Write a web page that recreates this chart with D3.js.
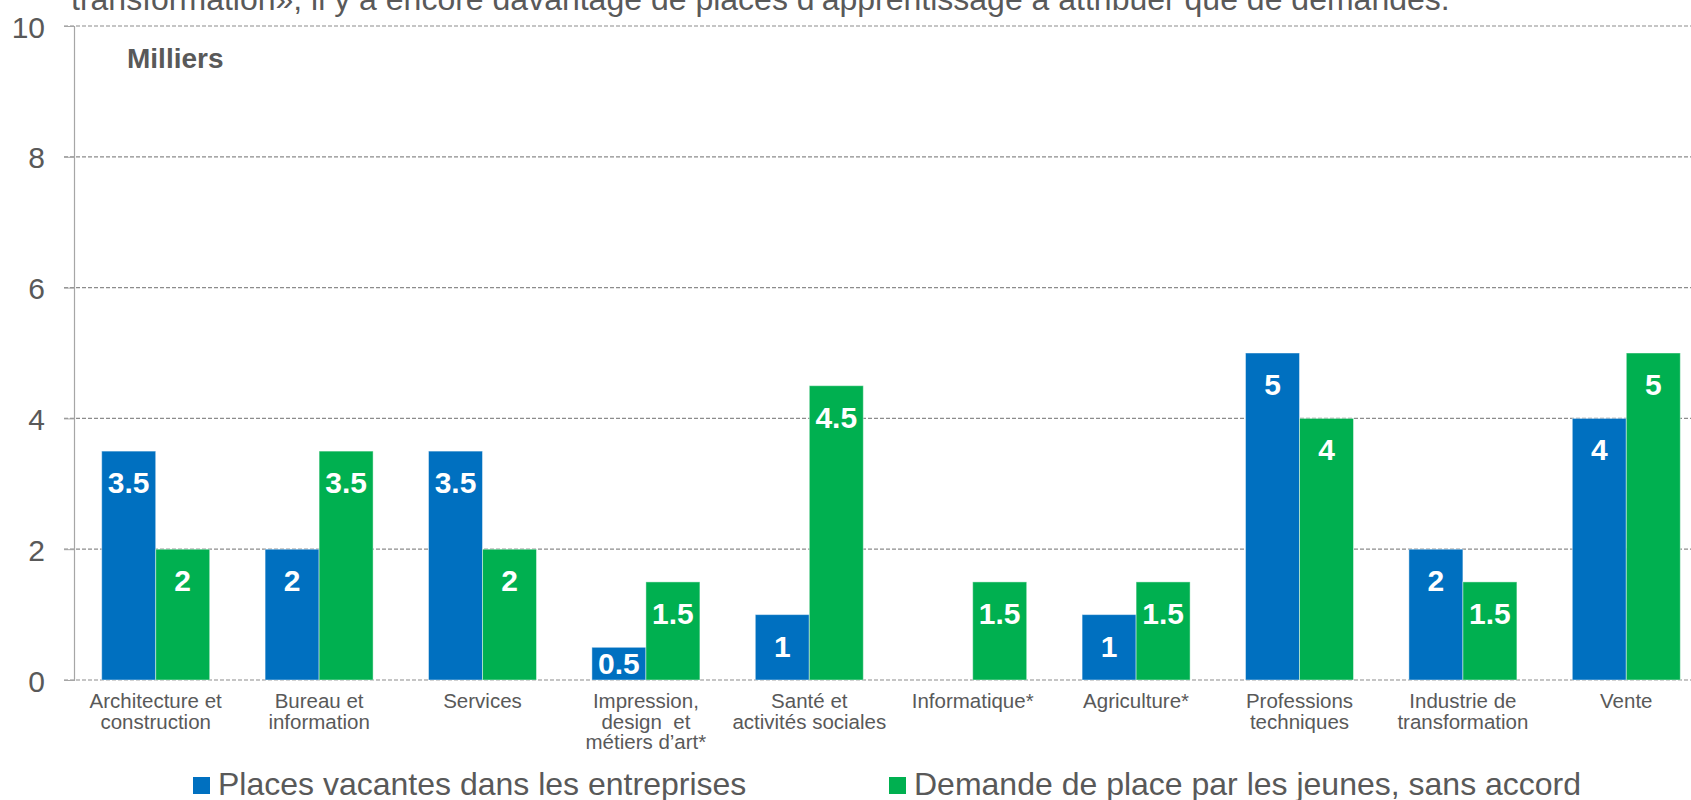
<!DOCTYPE html>
<html>
<head>
    <meta charset="utf-8">
    <title>Places d'apprentissage par domaine</title>
    <script src="https://cdnjs.cloudflare.com/ajax/libs/d3/7.8.5/d3.min.js"></script>
    <style>
        body {
            margin: 0;
            background: #fff;
            font-family: "Liberation Sans", Arial, sans-serif;
        }
        svg text {
            white-space: pre;
        }
    </style>
</head>
<body>
    <div id="chart"></div>

    <script>
        // Categories (each entry = lines of the axis label)
        const categories = [
            ["Architecture et", "construction"],
            ["Bureau et", "information"],
            ["Services"],
            ["Impression,", "design  et", "métiers d’art*"],
            ["Santé et", "activités sociales"],
            ["Informatique*"],
            ["Agriculture*"],
            ["Professions", "techniques"],
            ["Industrie de", "transformation"],
            ["Vente"]
        ];
        const placesVacantes = [3.5, 2, 3.5, 0.5, 1, null, 1, 5, 2, 4];
        const demandes = [2, 3.5, 2, 1.5, 4.5, 1.5, 1.5, 4, 1.5, 5];
        const seriesNames = ["Places vacantes dans les entreprises", "Demande de place par les jeunes, sans accord"];
        const seriesColors = ["#0070C0", "#00B050"];
        const yTicks = [0, 2, 4, 6, 8, 10];
        const titleText = "transformation», il y a encore davantage de places d’apprentissage à attribuer que de demandes.";

        const width = 1691, height = 800;
        const textColor = "#595959";

        const svg = d3.select("#chart")
            .append("svg")
            .attr("width", width)
            .attr("height", height);

        const keys = categories.map((c, i) => "c" + i);

        const x = d3.scaleBand()
            .domain(keys)
            .range([74, 1708])
            .paddingInner(0.339)
            .paddingOuter(0.1695);

        const x1 = d3.scaleBand()
            .domain([0, 1])
            .range([0, x.bandwidth()]);

        const y = d3.scaleLinear()
            .domain([0, 10])
            .range([680, 26]);

        // cut-off text at the very top
        svg.append("text")
            .attr("x", 71)
            .attr("y", 10)
            .attr("fill", textColor)
            .style("font-size", "32px")
            .text(titleText);

        // gridlines
        svg.append("g")
            .selectAll("line")
            .data(yTicks)
            .enter()
            .append("line")
            .attr("x1", 64)
            .attr("x2", width)
            .attr("y1", d => y(d))
            .attr("y2", d => y(d))
            .attr("stroke", "#8c8c8c")
            .attr("stroke-width", 1.2)
            .attr("stroke-dasharray", "4,2");

        // y axis
        const yAxis = d3.axisLeft(y)
            .tickValues(yTicks)
            .tickSize(10)
            .tickPadding(19)
            .tickFormat(d3.format("d"));

        const gy = svg.append("g")
            .attr("transform", "translate(74,0)")
            .call(yAxis);
        gy.select(".domain").attr("stroke", "#a6a6a6").attr("stroke-width", 1.2);
        gy.selectAll(".tick line").attr("stroke", "#a6a6a6");
        gy.selectAll(".tick text")
            .attr("fill", textColor)
            .attr("dy", "11px")
            .style("font-size", "30px")
            .style("font-family", "'Liberation Sans', Arial, sans-serif");

        svg.append("text")
            .attr("x", 127)
            .attr("y", 68)
            .attr("fill", textColor)
            .style("font-size", "28px")
            .style("font-weight", "bold")
            .text("Milliers");

        // bars
        const barData = [];
        keys.forEach((k, i) => {
            [placesVacantes[i], demandes[i]].forEach((v, s) => {
                if (v != null) barData.push({ key: k, s: s, value: v });
            });
        });

        const bars = svg.append("g");
        bars.selectAll("rect")
            .data(barData)
            .enter()
            .append("rect")
            .attr("x", d => x(d.key) + x1(d.s))
            .attr("y", d => y(d.value))
            .attr("width", x1.bandwidth())
            .attr("height", d => y(0) - y(d.value))
            .attr("fill", d => seriesColors[d.s])
            .attr("stroke", "rgba(255,255,255,0.45)")
            .attr("stroke-width", 1);

        bars.selectAll("text")
            .data(barData)
            .enter()
            .append("text")
            .attr("x", d => x(d.key) + x1(d.s) + x1.bandwidth() / 2)
            .attr("y", d => Math.min(y(d.value) + 42, y(0) - 6))
            .attr("text-anchor", "middle")
            .attr("fill", "#fff")
            .style("font-size", "30px")
            .style("font-weight", "bold")
            .text(d => d.value);

        // category labels
        const cat = svg.append("g")
            .selectAll("text")
            .data(categories)
            .enter()
            .append("text")
            .attr("x", (d, i) => x(keys[i]) + x.bandwidth() / 2)
            .attr("y", 708)
            .attr("text-anchor", "middle")
            .attr("fill", textColor)
            .style("font-size", "20.5px");

        cat.selectAll("tspan")
            .data(d => d)
            .enter()
            .append("tspan")
            .attr("x", function() { return this.parentNode.getAttribute("x"); })
            .attr("dy", (d, i) => i === 0 ? 0 : 20.5)
            .text(d => d);

        // legend
        const legendX = [193, 889];
        const legend = svg.append("g")
            .selectAll("g")
            .data(seriesNames)
            .enter()
            .append("g")
            .attr("transform", (d, i) => `translate(${legendX[i]},0)`);

        legend.append("rect")
            .attr("x", 0)
            .attr("y", 777)
            .attr("width", 17)
            .attr("height", 17)
            .attr("fill", (d, i) => seriesColors[i]);

        legend.append("text")
            .attr("x", 25)
            .attr("y", 795)
            .attr("fill", textColor)
            .style("font-size", "32px")
            .text(d => d);
    </script>
</body>
</html>
